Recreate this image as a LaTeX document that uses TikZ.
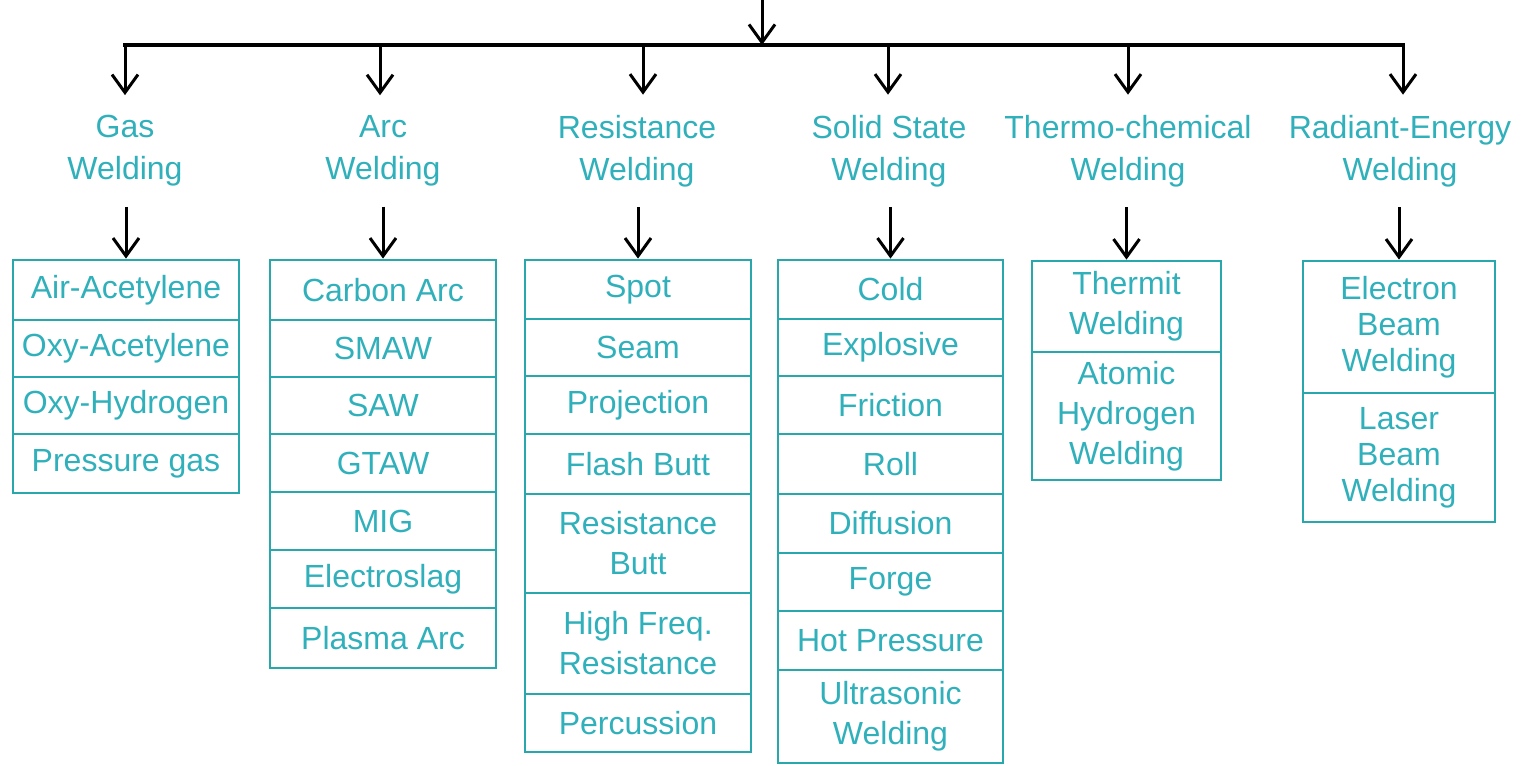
\documentclass[tikz,border=0pt]{standalone}
\usepackage{fontspec}
\setmainfont{Liberation Sans}
\usetikzlibrary{arrows.meta}
\definecolor{tealc}{RGB}{48,176,186}
\definecolor{boxc}{RGB}{40,168,172}
\tikzset{
  arr/.style={line width=1.5pt, -{Straight Barb[length=9pt,width=13pt,line width=1.5pt]}},
  bar/.style={line width=2pt},
  cat/.style={text=tealc, align=center, font=\fontsize{16}{21}\selectfont, inner sep=4pt},
  cell/.style={draw=boxc, line width=1.4pt, text=tealc, align=center, inner sep=0pt,
    font=\fontsize{16}{20}\selectfont, minimum width=#1},
}
\begin{document}
\begin{tikzpicture}[x=0.5pt,y=-0.5pt]
\useasboundingbox (0,0) rectangle (1530,765);
% root and bar
\coordinate (root) at (762,-2);
\coordinate (mid) at (762,45);
\coordinate (bl) at (123,45);
\coordinate (br) at (1405,45);
\coordinate (b1) at (125,45);
\coordinate (b2) at (380,45);
\coordinate (b3) at (643,45);
\coordinate (b4) at (888,45);
\coordinate (b5) at (1128,45);
\coordinate (b6) at (1403,45);
\draw[bar] (bl) -- (br);
\draw[arr] (root) -- (mid);
% categories
\node[cat] (gas) at (125,151) {Gas\\Welding};
\node[cat] (arc) at (383,151) {Arc\\Welding};
\node[cat] (res) at (637,151) {Resistance\\Welding};
\node[cat] (sol) at (889,151) {Solid State\\Welding};
\node[cat] (thc) at (1128,151) {Thermo-chemical\\Welding};
\node[cat] (rad) at (1400,151) {Radiant-Energy\\Welding};
% gas
\node[cell=113pt, minimum height=30pt] (g1) at (126,290) {Air-Acetylene};
\node[cell=113pt, minimum height=28.5pt] (g2) at (126,348.5) {Oxy-Acetylene};
\node[cell=113pt, minimum height=28.5pt] (g3) at (126,405.5) {Oxy-Hydrogen};
\node[cell=113pt, minimum height=29.5pt] (g4) at (126,463.5) {Pressure gas};
% arc
\node[cell=113pt, minimum height=30pt] (a1) at (383,290) {Carbon Arc};
\node[cell=113pt, minimum height=28.5pt] (a2) at (383,348.5) {SMAW};
\node[cell=113pt, minimum height=28.5pt] (a3) at (383,405.5) {SAW};
\node[cell=113pt, minimum height=29pt] (a4) at (383,463) {GTAW};
\node[cell=113pt, minimum height=29pt] (a5) at (383,521) {MIG};
\node[cell=113pt, minimum height=29pt] (a6) at (383,579) {Electroslag};
\node[cell=113pt, minimum height=30pt] (a7) at (383,638) {Plasma Arc};
% resistance
\node[cell=113pt, minimum height=29.5pt] (r1) at (638,289.5) {Spot};
\node[cell=113pt, minimum height=28.5pt] (r2) at (638,347.5) {Seam};
\node[cell=113pt, minimum height=29pt] (r3) at (638,405) {Projection};
\node[cell=113pt, minimum height=30pt] (r4) at (638,464) {Flash Butt};
\node[cell=113pt, minimum height=49.5pt] (r5) at (638,543.5) {Resistance\\Butt};
\node[cell=113pt, minimum height=50.5pt] (r6) at (638,643.5) {High Freq.\\Resistance};
\node[cell=113pt, minimum height=29pt] (r7) at (638,723) {Percussion};
% solid state
\node[cell=112.5pt, minimum height=29.5pt] (s1) at (890.5,289.5) {Cold};
\node[cell=112.5pt, minimum height=28.5pt] (s2) at (890.5,347.5) {Explosive};
\node[cell=112.5pt, minimum height=29pt] (s3) at (890.5,405) {Friction};
\node[cell=112.5pt, minimum height=30pt] (s4) at (890.5,464) {Roll};
\node[cell=112.5pt, minimum height=29.5pt] (s5) at (890.5,523.5) {Diffusion};
\node[cell=112.5pt, minimum height=29pt] (s6) at (890.5,582) {Forge};
\node[cell=112.5pt, minimum height=29.5pt] (s7) at (890.5,640.5) {Hot Pressure};
\node[cell=112.5pt, minimum height=46.5pt] (s8) at (890.5,716.5) {Ultrasonic\\Welding};
% thermo-chemical
\node[cell=94.5pt, minimum height=45.5pt] (t1) at (1126.5,306.5) {Thermit\\Welding};
\node[cell=94.5pt, minimum height=64pt] (t2) at (1126.5,416) {Atomic\\Hydrogen\\Welding};
% radiant
\node[cell=96pt, minimum height=66pt, font=\fontsize{16}{18}\selectfont] (e1) at (1399,327) {Electron\\Beam\\Welding};
\node[cell=96pt, minimum height=64.5pt, font=\fontsize{16}{18}\selectfont] (e2) at (1399,457.5) {Laser\\Beam\\Welding};
% arrows bar -> categories
\foreach \b/\c in {b1/gas,b2/arc,b3/res,b4/sol,b5/thc,b6/rad}
  \draw[arr, shorten >=6pt] (\b) -- (\b |- \c.north);
% arrows categories -> boxes
\foreach \c/\f in {gas/g1,arc/a1,res/r1,sol/s1,thc/t1,rad/e1}
  \draw[arr, shorten <=6pt] (\c.south -| \f.north) -- (\f.north);
\end{tikzpicture}
\end{document}
